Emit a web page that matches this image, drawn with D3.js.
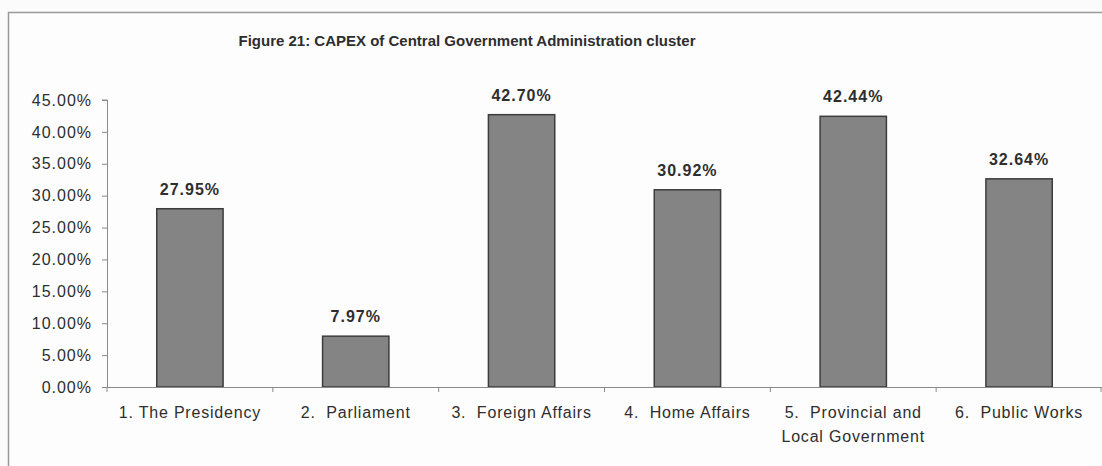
<!DOCTYPE html>
<html>
<head>
<meta charset="utf-8">
<script src="https://cdn.jsdelivr.net/npm/d3@7/dist/d3.min.js"></script>
<style>
  html, body { margin: 0; padding: 0; background: #fbfbfb; }
  svg { display: block; }
  text { font-family: "Liberation Sans", Arial, sans-serif; fill: #2e2e2e; }
</style>
</head>
<body>
<svg id="chart" width="1102" height="466"></svg>
<script>
const title = "Figure 21: CAPEX of Central Government Administration cluster";
const categories = ["1. The Presidency", "2.  Parliament", "3.  Foreign Affairs", "4.  Home Affairs", "5.  Provincial and\nLocal Government", "6.  Public Works"];
const values = [27.95, 7.97, 42.70, 30.92, 42.44, 32.64];
const yTicks = [0, 5, 10, 15, 20, 25, 30, 35, 40, 45];

const svg = d3.select("#chart");
const W = 1102, H = 466;
const m = { left: 107, right: 0, top: 100, bottom: 79 };

svg.append("rect").attr("x", 0).attr("y", 0).attr("width", W).attr("height", H).attr("fill", "#fbfbfb");
// outer chart border (cut off at right and bottom)
svg.append("rect").attr("x", 8.5).attr("y", 12.5).attr("width", 1200).attr("height", 600)
  .attr("fill", "#fdfdfd").attr("stroke", "#9a9a9a").attr("stroke-width", 1.5);

const x = d3.scaleBand().domain(categories).range([m.left, 1102]).paddingInner(0.6).paddingOuter(0.3);
const y = d3.scaleLinear().domain([0, 45]).range([387, 100]);

// title
svg.append("text").attr("x", 467).attr("y", 46).attr("text-anchor", "middle")
  .style("font-weight", "bold").style("font-size", "15px").text(title);

// y axis
const yAxis = svg.append("g").attr("transform", `translate(${m.left},0)`)
  .call(d3.axisLeft(y).tickValues(yTicks).tickSize(5).tickPadding(10).tickFormat(d => d.toFixed(2) + "%"));
yAxis.select(".domain").attr("stroke", "#8a8a8a").attr("d", `M-5,${y(45)}H0.5V${y(0)}`);
yAxis.selectAll(".tick line").attr("stroke", "#8a8a8a");
yAxis.selectAll(".tick text").style("font-size", "16px").style("letter-spacing", "1px").attr("fill", "#2e2e2e")
  .style("font-family", "'Liberation Sans', Arial, sans-serif");

// bars
svg.append("g").selectAll("rect").data(values).join("rect")
  .attr("x", (d, i) => x(categories[i]))
  .attr("y", d => y(d))
  .attr("width", x.bandwidth())
  .attr("height", d => y(0) - y(d))
  .attr("fill", "#848484").attr("stroke", "#3c3c3c").attr("stroke-width", 1.5);

// value labels
svg.append("g").selectAll("text").data(values).join("text")
  .attr("x", (d, i) => x(categories[i]) + x.bandwidth() / 2)
  .attr("y", d => y(d) - 14)
  .attr("text-anchor", "middle")
  .style("font-weight", "bold").style("font-size", "16px").style("letter-spacing", "1px")
  .text(d => d3.format(".2%")(d / 100));

// x axis line with ticks at band boundaries
const xg = svg.append("g");
xg.append("line").attr("x1", m.left).attr("x2", 1102).attr("y1", y(0) + 0.5).attr("y2", y(0) + 0.5)
  .attr("stroke", "#8a8a8a").attr("stroke-width", 1.2);
const step = x.step();
const bounds = d3.range(categories.length + 1).map(i => x(categories[0]) - x.paddingOuter() * step + i * step);
xg.selectAll("line.tk").data(bounds).join("line").attr("class", "tk")
  .attr("x1", d => Math.min(d, 1101)).attr("x2", d => Math.min(d, 1101))
  .attr("y1", y(0)).attr("y2", y(0) + 5).attr("stroke", "#8a8a8a");

// category labels
const lbl = svg.append("g").selectAll("text").data(categories).join("text")
  .attr("x", d => x(d) + x.bandwidth() / 2)
  .attr("y", 418)
  .attr("text-anchor", "middle")
  .attr("xml:space", "preserve")
  .style("white-space", "pre")
  .style("font-size", "16px").style("letter-spacing", "0.8px");
lbl.each(function(d) {
  const lines = d.split("\n");
  const t = d3.select(this);
  lines.forEach((ln, i) => {
    t.append("tspan").attr("x", x(d) + x.bandwidth() / 2).attr("dy", i === 0 ? 0 : 24).text(ln);
  });
});
</script>
</body>
</html>
